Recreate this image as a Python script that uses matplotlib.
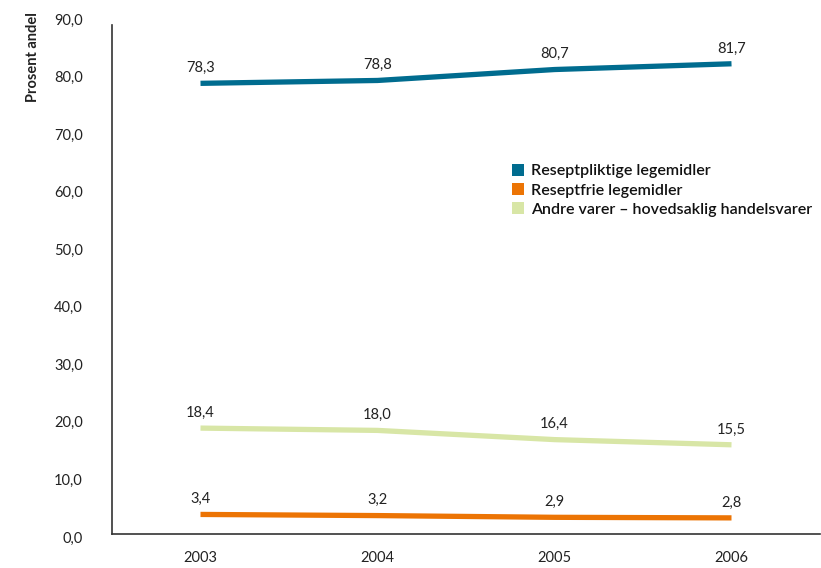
import matplotlib
matplotlib.use("Agg")
import matplotlib.pyplot as plt
import matplotlib.transforms as mtransforms
from matplotlib.patches import Patch

years = ["2003", "2004", "2005", "2006"]
reseptpliktige = [78.3, 78.8, 80.7, 81.7]
reseptfrie = [3.4, 3.2, 2.9, 2.8]
andre = [18.4, 18.0, 16.4, 15.5]
series_names = ["Reseptpliktige legemidler", "Reseptfrie legemidler",
                "Andre varer \u2013 hovedsaklig handelsvarer"]
colors = ["#006c8f", "#ec7404", "#d8e6a6"]
yticks = [0, 10, 20, 30, 40, 50, 60, 70, 80, 90]

plt.rcParams['font.family'] = ['Lato', 'DejaVu Sans']

fig = plt.figure(figsize=(8.21, 5.68), dpi=100)
W, H = 821, 568
ax = fig.add_axes([112 / W, 1 - 534 / H, (820 - 112) / W, (534 - 16) / H])

x = list(range(len(years)))
for vals, c in zip([reseptpliktige, reseptfrie, andre], colors):
    ax.plot(x, vals, color=c, lw=3.8, solid_capstyle='butt')
    for xi, v in zip(x, vals):
        ax.annotate(f"{v:.1f}".replace(".", ","), (xi, v), xytext=(0, 6),
                    textcoords='offset points', ha='center', va='bottom',
                    fontsize=10.5, color='#222222')

ax.set_xlim(-0.5, 3.5)
ax.set_ylim(0, 90)
ax.set_xticks(x)
ax.set_xticklabels(years)
ax.set_yticks(yticks)
ax.set_yticklabels([f"{t:.1f}".replace(".", ",") for t in yticks])
ax.tick_params(axis='both', length=0, labelsize=10.5, colors='#222222')
ax.tick_params(axis='y', pad=21)
ax.tick_params(axis='x', pad=12)
offset = mtransforms.ScaledTranslation(0, -3 / 100, fig.dpi_scale_trans)
for lbl in ax.get_yticklabels():
    lbl.set_transform(lbl.get_transform() + offset)
for s in ['top', 'right']:
    ax.spines[s].set_visible(False)
ax.spines['left'].set_bounds(0, 88.5)
for s in ['left', 'bottom']:
    ax.spines[s].set_color('#333333')
    ax.spines[s].set_linewidth(1.2)

fig.text(33 / W, 1 - 57 / H, "Prosent andel", rotation=90, ha='center', va='center',
         fontsize=10.5, fontweight='bold', color='#222222')

handles = [Patch(facecolor=c, edgecolor='none') for c in colors]
leg = fig.legend(handles, series_names, loc='upper left', bbox_to_anchor=(512 / W, 1 - 164 / H),
                 frameon=False, fontsize=11.5, handlelength=0.75, handleheight=0.75,
                 handletextpad=0.45, labelspacing=0.3, borderaxespad=0, borderpad=0)
for t in leg.get_texts():
    t.set_fontweight('semibold')
    t.set_color('#111111')

fig.savefig("out.png", dpi=100)
